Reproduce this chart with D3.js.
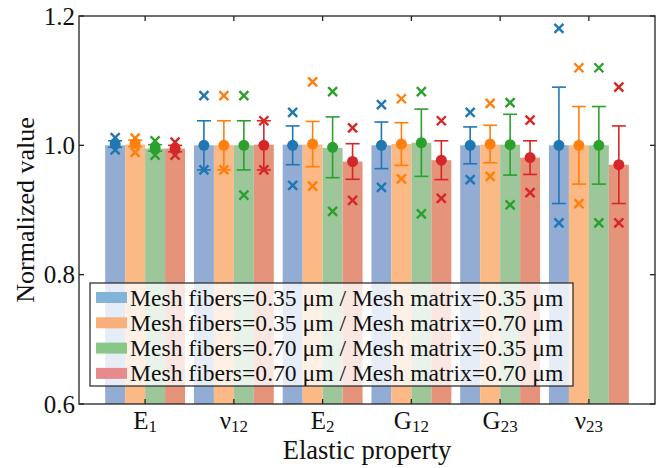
<!DOCTYPE html>
<html>
<head>
<meta charset="utf-8">
<script src="https://cdn.jsdelivr.net/npm/d3@7"></script>
<style>
  body { margin: 0; background: #fff; }
  svg, svg text { font-family: "Liberation Serif", "Times New Roman", Times, "DejaVu Serif", serif; }
</style>
</head>
<body>
<div id="chart"></div>
<script>
// Catégories (lettre + indice)
const proprietes = ["E", "ν", "E", "G", "G", "ν"];
const indices = ["1", "12", "2", "12", "23", "23"];

const series = [
  "Mesh fibers=0.35 μm / Mesh matrix=0.35 μm",
  "Mesh fibers=0.35 μm / Mesh matrix=0.70 μm",
  "Mesh fibers=0.70 μm / Mesh matrix=0.35 μm",
  "Mesh fibers=0.70 μm / Mesh matrix=0.70 μm"
];

// Hauteurs des barres
const barresS1 = [1.000, 1.000, 1.001, 1.000, 1.000, 1.000];
const barresS2 = [1.001, 1.000, 1.001, 1.002, 1.001, 1.000];
const barresS3 = [0.995, 1.000, 0.996, 1.004, 1.001, 1.000];
const barresS4 = [0.995, 1.001, 0.975, 0.977, 0.981, 0.970];

// Moyennes (points)
const moyS1 = [1.002, 1.000, 1.000, 1.000, 1.000, 1.000];
const moyS2 = [1.003, 1.000, 1.002, 1.002, 1.002, 1.000];
const moyS3 = [0.996, 1.000, 0.997, 1.004, 1.001, 1.000];
const moyS4 = [0.995, 1.000, 0.975, 0.977, 0.981, 0.970];

// Écarts-types
const ecartS1 = [0.005, 0.038, 0.030, 0.036, 0.0285, 0.090];
const ecartS2 = [0.005, 0.038, 0.035, 0.033, 0.029, 0.060];
const ecartS3 = [0.005, 0.038, 0.047, 0.052, 0.047, 0.060];
const ecartS4 = [0.005, 0.038, 0.0275, 0.030, 0.026, 0.060];

// Maximums / minimums (croix)
const maxS1 = [1.012, 1.077, 1.051, 1.063, 1.051, 1.181];
const maxS2 = [1.011, 1.077, 1.098, 1.072, 1.065, 1.120];
const maxS3 = [1.007, 1.077, 1.083, 1.083, 1.066, 1.120];
const maxS4 = [1.005, 1.038, 1.027, 1.038, 1.039, 1.090];
const minS1 = [0.993, 0.962, 0.938, 0.935, 0.947, 0.880];
const minS2 = [0.989, 0.962, 0.937, 0.948, 0.952, 0.910];
const minS3 = [0.985, 0.923, 0.898, 0.894, 0.908, 0.880];
const minS4 = [0.985, 0.962, 0.915, 0.918, 0.927, 0.880];

const yTicks = [0.6, 0.8, 1.0, 1.2];

const barres = [barresS1, barresS2, barresS3, barresS4];
const moyennes = [moyS1, moyS2, moyS3, moyS4];
const ecarts = [ecartS1, ecartS2, ecartS3, ecartS4];
const maxs = [maxS1, maxS2, maxS3, maxS4];
const mins = [minS1, minS2, minS3, minS4];

const couleursBarres = ["#92acd4", "#fab985", "#9dc79a", "#e6937b"];
const couleursLegende = ["#82b3d8", "#f7b07b", "#8ac68a", "#e68a8c"];
const couleurs = ["#1f77b4", "#ff7f0e", "#2ca02c", "#d62728"];

const largeur = 666, hauteur = 468;
const zone = {gauche: 79, droite: 655, haut: 16, bas: 404};
const largeurBarre = 0.225;
const police = '"Liberation Serif", "Times New Roman", serif';

const svg = d3.select("#chart").append("svg")
  .attr("width", largeur).attr("height", hauteur)
  .attr("font-family", police);

const x = d3.scaleLinear().domain([-0.745, 5.745]).range([zone.gauche, zone.droite]);
const y = d3.scaleLinear().domain([0.6, 1.2]).range([zone.bas, zone.haut]);

// Barres
barres.forEach((vals, s) => {
  const dx = (s - 1.5) * largeurBarre;
  svg.append("g").selectAll("rect").data(vals).enter().append("rect")
    .attr("x", (d, i) => x(i + dx - largeurBarre / 2))
    .attr("width", x(largeurBarre) - x(0))
    .attr("y", d => y(d))
    .attr("height", d => y(0.6) - y(d))
    .attr("fill", couleursBarres[s]);
});

// Barres d'erreur, points et croix
const demiCap = 7, tailleCroix = 4.5;
moyennes.forEach((vals, s) => {
  const dx = (s - 1.5) * largeurBarre;
  const g = svg.append("g").attr("stroke", couleurs[s]).attr("fill", couleurs[s]);
  vals.forEach((m, i) => {
    const cx = x(i + dx);
    const e = ecarts[s][i];
    g.append("line").attr("x1", cx).attr("x2", cx)
      .attr("y1", y(m - e)).attr("y2", y(m + e)).attr("stroke-width", 1.6);
    [m - e, m + e].forEach(v => {
      g.append("line").attr("x1", cx - demiCap).attr("x2", cx + demiCap)
        .attr("y1", y(v)).attr("y2", y(v)).attr("stroke-width", 1.6);
    });
    [maxs[s][i], mins[s][i]].forEach(v => {
      const cy = y(v);
      g.append("path")
        .attr("d", `M${cx - tailleCroix},${cy - tailleCroix}L${cx + tailleCroix},${cy + tailleCroix}M${cx - tailleCroix},${cy + tailleCroix}L${cx + tailleCroix},${cy - tailleCroix}`)
        .attr("fill", "none").attr("stroke-width", 2.4);
    });
    g.append("circle").attr("cx", cx).attr("cy", y(m)).attr("r", 5.5).attr("stroke", "none");
  });
});

// Cadre et graduations (vers l'intérieur)
const axes = svg.append("g").attr("stroke", "#222").attr("stroke-width", 1.3);
axes.append("rect")
  .attr("x", zone.gauche).attr("y", zone.haut)
  .attr("width", zone.droite - zone.gauche).attr("height", zone.bas - zone.haut)
  .attr("fill", "none");
yTicks.forEach(t => {
  axes.append("line").attr("x1", zone.gauche).attr("x2", zone.gauche + 5).attr("y1", y(t)).attr("y2", y(t));
  axes.append("line").attr("x1", zone.droite).attr("x2", zone.droite - 5).attr("y1", y(t)).attr("y2", y(t));
});
proprietes.forEach((p, i) => {
  axes.append("line").attr("x1", x(i)).attr("x2", x(i)).attr("y1", zone.bas).attr("y2", zone.bas - 5);
  axes.append("line").attr("x1", x(i)).attr("x2", x(i)).attr("y1", zone.haut).attr("y2", zone.haut + 5);
});

// Étiquettes Y
svg.append("g").selectAll("text").data(yTicks).enter().append("text")
  .attr("x", zone.gauche - 4).attr("y", d => y(d) + 8.5)
  .attr("text-anchor", "end").attr("font-size", 25).attr("fill", "#111")
  .attr("font-family", police)
  .text(d => d.toFixed(1));

// Étiquettes X avec indices
const etiquettes = svg.append("g").selectAll("text").data(proprietes).enter().append("text")
  .attr("x", (d, i) => x(i)).attr("y", 429)
  .attr("text-anchor", "middle").attr("font-size", 25).attr("fill", "#111")
  .attr("font-family", police);
etiquettes.append("tspan").text(d => d);
etiquettes.append("tspan").attr("font-size", 17).attr("dy", 3).text((d, i) => indices[i]);

// Titres des axes
svg.append("text").attr("x", (zone.gauche + zone.droite) / 2).attr("y", 459)
  .attr("text-anchor", "middle").attr("font-size", 26.5).attr("fill", "#111")
  .attr("font-family", police)
  .text("Elastic property");
svg.append("text")
  .attr("transform", `translate(34, ${(zone.haut + zone.bas) / 2}) rotate(-90)`)
  .attr("text-anchor", "middle").attr("font-size", 26).attr("fill", "#111")
  .attr("font-family", police)
  .text("Normalized value");

// Légende
const leg = svg.append("g");
leg.append("rect").attr("x", 90).attr("y", 283).attr("width", 483).attr("height", 103)
  .attr("fill", "#fff").attr("fill-opacity", 0.78)
  .attr("stroke", "#333").attr("stroke-width", 1.3);
series.forEach((nom, s) => {
  const yy = 297.5 + s * 25.3;
  leg.append("rect").attr("x", 96).attr("y", yy - 5.5).attr("width", 31).attr("height", 11)
    .attr("fill", couleursLegende[s]);
  leg.append("text").attr("x", 130).attr("y", yy + 8).attr("font-size", 23.6).attr("fill", "#111")
    .attr("font-family", police)
    .text(nom);
});
</script>
</body>
</html>
